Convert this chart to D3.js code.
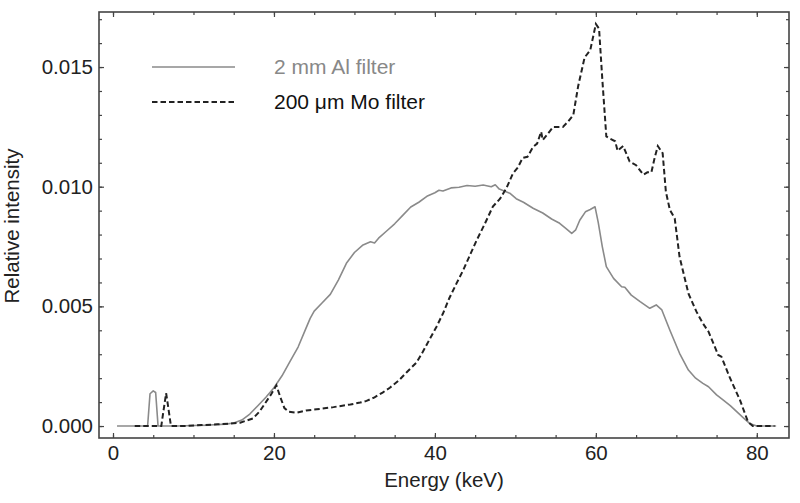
<!DOCTYPE html>
<html><head><meta charset="utf-8">
<script src="https://cdn.jsdelivr.net/npm/d3@7"></script>
<style>body{margin:0;background:#fff}svg{display:block}text{font-family:"Liberation Sans",Arial,Helvetica,sans-serif}</style>
</head><body><svg id="c" width="800" height="503"></svg>
<script>
// Energy (keV) and relative intensity (x1e-3)
const alEnergy = [0.5,4.0,4.3,4.6,5.0,5.3,5.6,6,8,10,12,14,15,16,17,18,19,20,21,22,23,24,24.5,25,26,27,28,29,30,31,32,32.5,33,34,35,36,37,38,39,40,40.5,41,42,43,44,45,46,47,47.5,48,49.3,50.1,51,52.2,53.4,54.5,55.5,56.3,57,57.5,58,58.7,59.3,59.9,60.3,60.8,61.3,62.2,63.2,63.6,64.4,65.5,66.7,67.5,68.2,69.2,70.4,71.5,72.4,73.3,74,75,75.8,76.7,77.5,78.3,79.1,80,82.4];
const alValue = [0,0,0,1.35,1.47,1.4,0,0,0,0.02,0.04,0.08,0.13,0.25,0.5,0.85,1.2,1.6,2.1,2.7,3.3,4.1,4.5,4.8,5.15,5.5,6.1,6.8,7.25,7.55,7.7,7.65,7.85,8.15,8.45,8.8,9.15,9.35,9.6,9.75,9.85,9.82,9.95,9.98,10.05,10.02,10.07,10.0,10.08,9.9,9.73,9.5,9.35,9.1,8.9,8.65,8.47,8.25,8.05,8.2,8.6,8.95,9.05,9.16,8.5,7.5,6.66,6.17,5.82,5.8,5.47,5.2,4.92,5.06,4.85,4.0,3.04,2.34,2.0,1.78,1.64,1.3,1.09,0.85,0.6,0.35,0.11,0,0];
const moEnergy = [2.7,6.0,6.3,6.6,6.9,7.2,9,11,13,14.5,15.8,16.5,17.4,18.2,18.9,19.6,20.3,20.8,21.3,21.8,22.8,24,25.3,26.5,27.4,28.5,29.5,30.7,31.5,32.5,33.5,34.4,35.5,36.5,37.7,38.5,39.3,40.2,41,41.8,42.7,43.5,44.3,45.2,46.2,47.2,48.1,48.9,49.7,50.3,50.9,51.5,52.2,52.7,53.2,53.4,54,54.7,55.3,55.9,56.5,57.2,57.8,58.6,59.3,60.0,60.4,60.8,61.3,61.8,62.4,62.7,63.4,64.2,65,65.9,66.4,66.9,67.3,67.7,68.3,68.7,69.2,69.8,70.4,71.5,72.5,73.3,74.0,75.2,75.6,76.6,77.9,78.9,79.5,82.2];
const moValue = [0,0,0.7,1.37,0.7,0,0,0.04,0.07,0.1,0.14,0.22,0.32,0.6,0.95,1.3,1.7,1.2,0.75,0.6,0.56,0.65,0.7,0.75,0.79,0.85,0.9,0.98,1.05,1.2,1.4,1.6,1.9,2.25,2.65,3.1,3.6,4.15,4.7,5.35,5.97,6.5,7.1,7.77,8.45,9.17,9.5,9.95,10.56,10.8,11.2,11.25,11.66,11.8,12.3,11.95,12.2,12.5,12.5,12.5,12.7,13.0,14.2,15.4,15.7,16.8,16.6,14.5,12.1,12.0,11.9,11.5,11.7,11.05,10.9,10.5,10.6,10.6,11.2,11.7,11.4,9.79,9.03,8.68,7.07,5.54,4.78,4.29,3.94,2.97,2.9,2.06,1.09,0.18,0,0];
const xMajor = [0,20,40,60,80];
const xMinor = [0,5,10,15,20,25,30,35,40,45,50,55,60,65,70,75,80];
const yMajor = [0,0.005,0.010,0.015];
const yMinor = [0,0.001,0.002,0.003,0.004,0.005,0.006,0.007,0.008,0.009,0.010,0.011,0.012,0.013,0.014,0.015,0.016,0.017];
const seriesNames = ["2 mm Al filter","200 \u03bcm Mo filter"];

const L=99,R=789,T=12,B=438;
const x = d3.scaleLinear().domain([-1.74,84.0]).range([L,R]);
const y = d3.scaleLinear().domain([-0.0005,0.0173]).range([B,T]);
const svg = d3.select("#c");
const frameCol="#444";
const FS=20.5;

function ticks(axisFn, scale, vals, size, tf){
  return axisFn(scale).tickValues(vals).tickSizeInner(size).tickSizeOuter(0).tickFormat(tf||"");
}
// bottom
svg.append("g").attr("transform",`translate(0,${B})`).call(ticks(d3.axisBottom,x,xMinor,-3));
const gB2 = svg.append("g").attr("transform",`translate(0,${B})`);
gB2.call(ticks(d3.axisBottom,x,xMajor,-5,d3.format("d")));
gB2.selectAll("text").attr("dy",null).attr("y",22).attr("font-size",FS).attr("fill","#222");
// top
svg.append("g").attr("transform",`translate(0,${T})`).call(ticks(d3.axisTop,x,xMinor,-3));
svg.append("g").attr("transform",`translate(0,${T})`).call(ticks(d3.axisTop,x,xMajor,-5));
// left
svg.append("g").attr("transform",`translate(${L},0)`).call(ticks(d3.axisLeft,y,yMinor,-3));
const gL2=svg.append("g").attr("transform",`translate(${L},0)`).call(ticks(d3.axisLeft,y,yMajor,-5,d3.format(".3f")));
gL2.selectAll("text").attr("x",-6).attr("font-size",FS).attr("fill","#222");
// right
svg.append("g").attr("transform",`translate(${R},0)`).call(ticks(d3.axisRight,y,yMinor,-3));
svg.append("g").attr("transform",`translate(${R},0)`).call(ticks(d3.axisRight,y,yMajor,-5));
svg.selectAll(".domain").remove();
svg.selectAll(".tick line").attr("stroke",frameCol).attr("stroke-width",1.2);
svg.append("rect").attr("x",L).attr("y",T).attr("width",R-L).attr("height",B-T)
  .attr("fill","none").attr("stroke",frameCol).attr("stroke-width",1.6);

const line = d3.line().x(d=>x(d[0])).y(d=>y(d[1]/1000));
const alData = alEnergy.map((e,i)=>[e,alValue[i]]);
const moData = moEnergy.map((e,i)=>[e,moValue[i]]);
svg.append("path").datum(alData).attr("d",line).attr("fill","none").attr("stroke","#8a8a8a").attr("stroke-width",1.6).attr("stroke-linejoin","round");
svg.append("path").datum(moData).attr("d",line).attr("fill","none").attr("stroke","#222").attr("stroke-width",2).attr("stroke-dasharray","5.5,3");

// legend
const leg=[{n:seriesNames[0],c:"#8a8a8a",tc:"#888",d:null,w:1.6,yy:67,ty:74},{n:seriesNames[1],c:"#222",tc:"#111",d:"5.5,3",w:2,yy:102,ty:109}];
leg.forEach(l=>{
  svg.append("line").attr("x1",152).attr("x2",235).attr("y1",l.yy).attr("y2",l.yy).attr("stroke",l.c).attr("stroke-width",l.w).attr("stroke-dasharray",l.d);
  svg.append("text").attr("x",274).attr("y",l.ty).attr("font-size",21).attr("fill",l.tc).text(l.n);
});
// axis titles
svg.append("text").attr("x",(L+R)/2).attr("y",487).attr("text-anchor","middle").attr("font-size",FS).attr("fill","#222").text("Energy (keV)");
svg.append("text").attr("transform","translate(19,226) rotate(-90)").attr("text-anchor","middle").attr("font-size",FS).attr("fill","#222").text("Relative intensity");
</script></body></html>
